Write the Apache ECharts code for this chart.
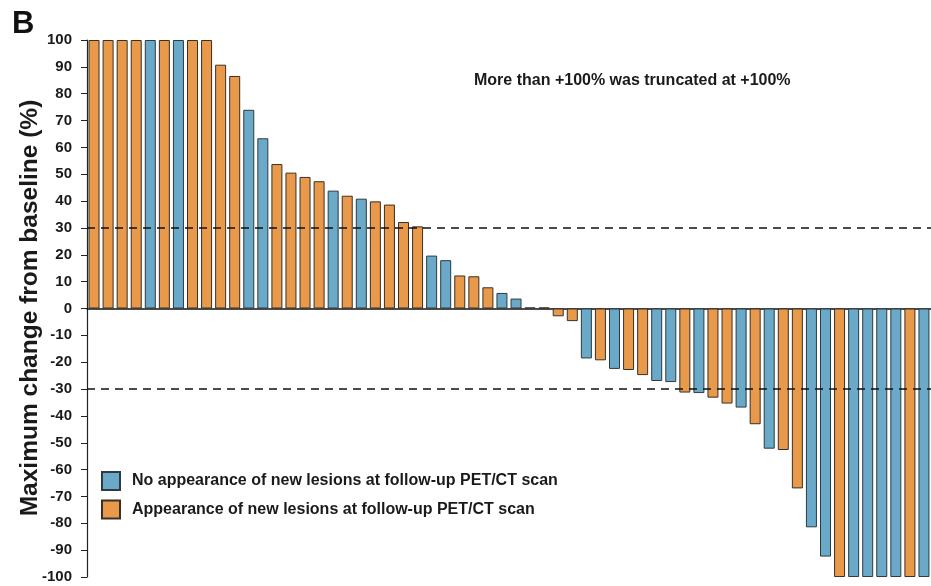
<!DOCTYPE html>
<html>
<head>
<meta charset="utf-8">
<script src="https://cdn.jsdelivr.net/npm/echarts@6/dist/echarts.min.js"></script>
<style>
  html, body { margin: 0; padding: 0; background: #fff; }
  #chart { width: 931px; height: 586px; }
</style>
</head>
<body>
<div id="chart"></div>
<script>
// maximum change from baseline (%) per patient, sorted
const values = [
  100, 100, 100, 100, 100, 100, 100, 100, 100,
  90.8, 86.6, 74, 63.4, 53.8, 50.6, 49, 47.4,
  43.9, 42, 40.9, 39.9, 38.7, 32.2, 30.6,
  19.7, 18, 12.3, 12, 7.9, 5.8, 3.7, 0.4, 0.4,
  -2.9, -4.7, -18.6, -19.3, -22.5, -22.9, -24.8, -27, -27.4,
  -31.3, -31.5, -33.2, -35.4, -36.9, -43.1, -52.2, -52.7,
  -67, -81.5, -92.4, -100, -100, -100, -100, -100, -100, -100
];
// N = no new lesions (blue), A = new lesions (orange)
const groups = [
  "A", "A", "A", "A", "N", "A", "N", "A", "A",
  "A", "A", "N", "N", "A", "A", "A", "A",
  "N", "A", "N", "A", "A", "A", "A",
  "N", "N", "A", "A", "A", "N", "N", "N", "A",
  "A", "A", "N", "A", "N", "A", "A", "N", "N",
  "A", "N", "A", "A", "N", "A", "N", "A",
  "A", "N", "N", "A", "N", "N", "N", "N", "A", "N"
];
const seriesNames = [
  "No appearance of new lesions at follow-up PET/CT scan",
  "Appearance of new lesions at follow-up PET/CT scan"
];
const thresholds = [30, -30];
const yTicks = { min: -100, max: 100, step: 10 };

const categories = values.map((v, i) => "P" + (i + 1));
const blueData = values.map((v, i) => (groups[i] === "N" ? v : "-"));
const orangeData = values.map((v, i) => (groups[i] === "A" ? v : "-"));

const chart = echarts.init(document.getElementById("chart"));
chart.setOption({
  animation: false,
  textStyle: { fontFamily: "Liberation Sans, Arial, sans-serif" },
  grid: { left: 87, top: 40, bottom: 9, width: 849 },
  legend: {
    orient: "vertical",
    left: 96,
    top: 466,
    itemWidth: 18,
    itemHeight: 18,
    itemGap: 8.5,
    icon: "rect",
    textStyle: { fontSize: 16, fontWeight: "bold", color: "#1a1a1a", padding: [0, 0, 0, 7] },
    data: seriesNames
  },
  xAxis: {
    type: "category",
    data: categories,
    axisLine: { onZero: true, lineStyle: { color: "#111", width: 1.5 } },
    axisTick: { show: false },
    axisLabel: { show: false }
  },
  yAxis: {
    type: "value",
    min: yTicks.min,
    max: yTicks.max,
    interval: yTicks.step,
    splitLine: { show: false },
    axisLine: { show: true, lineStyle: { color: "#222", width: 1.2 } },
    axisTick: { show: true, length: 6, lineStyle: { color: "#222" } },
    axisLabel: { margin: 15, fontSize: 15, fontWeight: "bold", color: "#1a1a1a" }
  },
  series: [
    {
      name: seriesNames[0],
      type: "bar",
      data: blueData,
      barWidth: 11,
      barGap: "-100%",
      itemStyle: { color: "#6aa9c7", borderColor: "#2d3b42", borderWidth: 1 },
      markLine: {
        silent: true,
        symbol: "none",
        label: { show: false },
        lineStyle: { color: "#111", width: 1.6, type: [8, 6] },
        data: thresholds.map(t => ({ yAxis: t })),
        z: 10
      }
    },
    {
      name: seriesNames[1],
      type: "bar",
      data: orangeData,
      barWidth: 11,
      barGap: "-100%",
      itemStyle: { color: "#e8994a", borderColor: "#3a3028", borderWidth: 1 }
    }
  ],
  graphic: [
    {
      type: "text",
      x: 12,
      y: 24,
      style: {
        text: "B",
        font: "bold 31px Liberation Sans, Arial, sans-serif",
        fill: "#111",
        verticalAlign: "middle"
      }
    },
    {
      type: "text",
      x: 30,
      y: 308,
      rotation: Math.PI / 2,
      style: {
        text: "Maximum change from baseline (%)",
        font: "bold 24.5px Liberation Sans, Arial, sans-serif",
        fill: "#1a1a1a",
        align: "center",
        verticalAlign: "middle"
      }
    },
    {
      type: "text",
      x: 474,
      y: 81,
      style: {
        text: "More than +100% was truncated at +100%",
        font: "bold 16px Liberation Sans, Arial, sans-serif",
        fill: "#1a1a1a",
        verticalAlign: "middle"
      }
    }
  ]
});
</script>
</body>
</html>
